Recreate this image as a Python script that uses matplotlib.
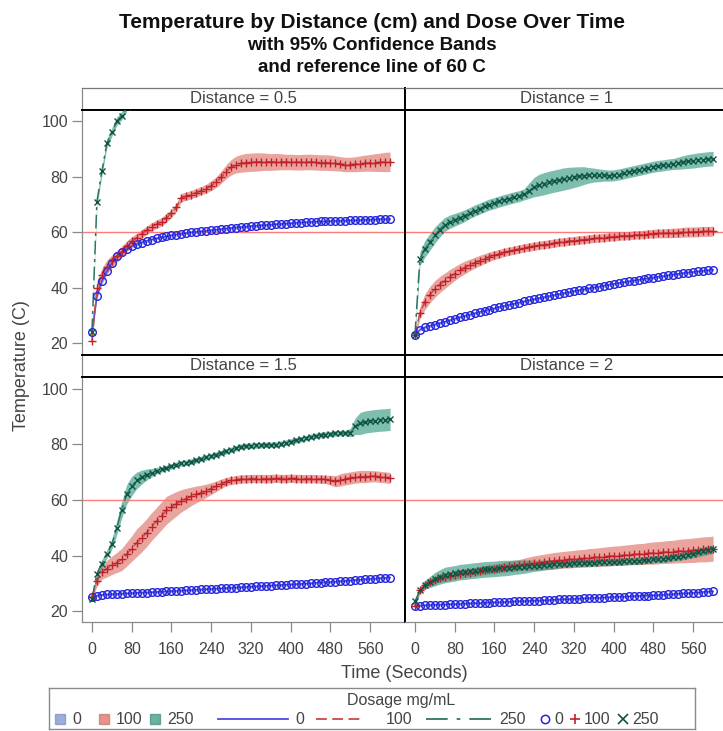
import numpy as np
import matplotlib.pyplot as plt
from matplotlib.patches import Rectangle

plt.rcParams['font.family'] = ['Liberation Sans', 'DejaVu Sans']

nan = float('nan')

# sample times (s), every 10 s
time_s = [0, 10, 20, 30, 40, 50, 60, 70, 80, 90,
          100, 110, 120, 130, 140, 150, 160, 170, 180, 190,
          200, 210, 220, 230, 240, 250, 260, 270, 280, 290,
          300, 310, 320, 330, 340, 350, 360, 370, 380, 390,
          400, 410, 420, 430, 440, 450, 460, 470, 480, 490,
          500, 510, 520, 530, 540, 550, 560, 570, 580, 590,
          600]

doses = ['0', '100', '250']
distances = ['0.5', '1', '1.5', '2']

# ---- Distance = 0.5 cm ----
d05_0 = [24.0, 37.0, 42.5, 46.0, 49.0, 51.3, 52.8, 54.0, 55.0, 55.7,
         56.3, 56.9, 57.4, 57.8, 58.2, 58.5, 58.9, 59.2, 59.4, 59.7,
         60.0, 60.1, 60.3, 60.5, 60.7, 60.9, 61.1, 61.3, 61.5, 61.7,
         61.9, 62.0, 62.2, 62.3, 62.5, 62.6, 62.7, 62.9, 63.0, 63.1,
         63.2, 63.4, 63.5, 63.6, 63.7, 63.8, 63.9, 63.9, 64.0, 64.1,
         64.1, 64.2, 64.3, 64.3, 64.4, 64.5, 64.5, 64.6, 64.7, 64.7,
         64.8]
d05_0_ci = [0.5, 1.2, 1.2, 1.0, 0.9, 0.8, 0.7, 0.7, 0.7, 0.7,
            0.7, 0.6, 0.6, 0.6, 0.6, 0.6, 0.6, 0.6, 0.6, 0.6,
            0.6, 0.6, 0.6, 0.6, 0.6, 0.6, 0.6, 0.6, 0.6, 0.6,
            0.6, 0.6, 0.6, 0.6, 0.6, 0.6, 0.6, 0.6, 0.6, 0.6,
            0.6, 0.6, 0.6, 0.6, 0.6, 0.6, 0.6, 0.6, 0.6, 0.6,
            0.6, 0.6, 0.6, 0.6, 0.6, 0.6, 0.6, 0.6, 0.6, 0.6,
            0.6]
d05_100 = [21.0, 40.0, 44.5, 47.5, 49.5, 51.3, 53.0, 55.0, 56.7, 58.0,
           59.4, 60.7, 62.0, 62.9, 63.8, 65.2, 66.8, 69.0, 72.5, 73.0,
           73.6, 74.3, 75.0, 75.7, 76.8, 78.0, 79.8, 81.8, 83.4, 84.4,
           84.8, 85.1, 85.2, 85.3, 85.4, 85.4, 85.3, 85.4, 85.4, 85.3,
           85.3, 85.2, 85.2, 85.3, 85.3, 85.2, 85.1, 85.1, 85.0, 84.8,
           84.6, 84.4, 84.4, 84.5, 84.7, 84.9, 85.0, 85.1, 85.2, 85.3,
           85.4]
d05_100_ci = [1.0, 2.5, 2.5, 2.5, 2.3, 2.1, 2.0, 1.9, 1.7, 1.6,
              1.5, 1.5, 1.5, 1.5, 1.5, 1.5, 1.5, 1.5, 1.5, 1.5,
              1.5, 1.5, 1.5, 1.6, 1.8, 1.9, 2.2, 2.5, 2.8, 3.0,
              3.2, 3.3, 3.3, 3.3, 3.2, 3.1, 3.0, 3.0, 2.9, 2.8,
              2.8, 2.8, 2.8, 2.8, 2.8, 2.8, 2.8, 2.8, 2.8, 2.7,
              2.6, 2.6, 2.6, 2.7, 2.8, 2.9, 3.0, 3.2, 3.3, 3.5,
              3.5]
d05_250 = [24.0, 71.0, 82.0, 92.0, 96.0, 100.0, 102.0, 105.0, nan, nan,
           nan, nan, nan, nan, nan, nan, nan, nan, nan, nan,
           nan, nan, nan, nan, nan, nan, nan, nan, nan, nan,
           nan, nan, nan, nan, nan, nan, nan, nan, nan, nan,
           nan, nan, nan, nan, nan, nan, nan, nan, nan, nan,
           nan, nan, nan, nan, nan, nan, nan, nan, nan, nan,
           nan]
d05_250_ci = [1.0, 1.5, 1.5, 1.5, 1.5, 1.5, 1.5, 1.5, nan, nan,
              nan, nan, nan, nan, nan, nan, nan, nan, nan, nan,
              nan, nan, nan, nan, nan, nan, nan, nan, nan, nan,
              nan, nan, nan, nan, nan, nan, nan, nan, nan, nan,
              nan, nan, nan, nan, nan, nan, nan, nan, nan, nan,
              nan, nan, nan, nan, nan, nan, nan, nan, nan, nan,
              nan]

# ---- Distance = 1 cm ----
d1_0 = [23.0, 25.0, 25.8, 26.3, 26.8, 27.3, 27.8, 28.3, 28.9, 29.4,
        29.9, 30.3, 30.8, 31.3, 31.7, 32.2, 32.6, 33.1, 33.5, 33.9,
        34.3, 34.7, 35.1, 35.5, 35.9, 36.3, 36.6, 37.0, 37.4, 37.7,
        38.1, 38.4, 38.8, 39.1, 39.4, 39.8, 40.1, 40.4, 40.8, 41.1,
        41.4, 41.7, 42.0, 42.3, 42.6, 42.9, 43.2, 43.4, 43.7, 44.0,
        44.2, 44.5, 44.8, 45.0, 45.3, 45.5, 45.7, 45.9, 46.1, 46.3,
        46.5]
d1_0_ci = [0.5, 0.6, 0.6, 0.6, 0.6, 0.6, 0.6, 0.6, 0.6, 0.6,
           0.6, 0.6, 0.6, 0.6, 0.6, 0.6, 0.6, 0.6, 0.6, 0.6,
           0.6, 0.6, 0.6, 0.6, 0.6, 0.6, 0.6, 0.6, 0.6, 0.6,
           0.6, 0.6, 0.6, 0.6, 0.6, 0.6, 0.6, 0.6, 0.6, 0.6,
           0.6, 0.6, 0.6, 0.6, 0.6, 0.6, 0.6, 0.6, 0.6, 0.6,
           0.6, 0.6, 0.6, 0.6, 0.6, 0.6, 0.6, 0.6, 0.6, 0.6,
           0.6]
d1_100 = [23.0, 31.0, 35.0, 37.5, 39.6, 41.2, 42.5, 43.9, 45.1, 46.3,
          47.3, 48.2, 49.0, 49.8, 50.5, 51.2, 51.8, 52.3, 52.8, 53.2,
          53.6, 54.0, 54.4, 54.7, 55.0, 55.3, 55.6, 55.8, 56.1, 56.4,
          56.6, 56.8, 57.0, 57.2, 57.4, 57.6, 57.8, 57.9, 58.1, 58.3,
          58.4, 58.6, 58.7, 58.8, 59.0, 59.1, 59.2, 59.4, 59.5, 59.6,
          59.6, 59.7, 59.8, 59.9, 60.0, 60.1, 60.1, 60.2, 60.3, 60.3,
          60.4]
d1_100_ci = [0.8, 2.2, 2.8, 3.0, 3.0, 2.9, 2.8, 2.7, 2.5, 2.4,
             2.3, 2.1, 2.0, 1.9, 1.8, 1.7, 1.6, 1.6, 1.5, 1.5,
             1.5, 1.5, 1.5, 1.5, 1.5, 1.5, 1.5, 1.5, 1.5, 1.5,
             1.5, 1.5, 1.5, 1.5, 1.5, 1.5, 1.5, 1.5, 1.5, 1.5,
             1.5, 1.5, 1.5, 1.5, 1.5, 1.5, 1.5, 1.5, 1.6, 1.6,
             1.6, 1.7, 1.7, 1.7, 1.8, 1.8, 1.8, 1.8, 1.8, 1.8,
             1.8]
d1_250 = [23.0, 50.5, 54.0, 56.5, 59.0, 61.0, 62.8, 63.8, 64.5, 65.2,
          66.0, 66.9, 67.8, 68.5, 69.3, 70.0, 70.5, 71.1, 71.6, 72.1,
          72.6, 73.0, 73.7, 75.0, 76.3, 77.0, 77.5, 78.0, 78.4, 78.8,
          79.2, 79.5, 79.8, 80.1, 80.4, 80.5, 80.6, 80.5, 80.5, 80.4,
          80.5, 80.8, 81.2, 81.6, 82.0, 82.4, 82.8, 83.2, 83.6, 83.9,
          84.1, 84.4, 84.6, 84.9, 85.2, 85.5, 85.7, 86.0, 86.2, 86.4,
          86.5]
d1_250_ci = [1.0, 2.5, 3.0, 3.0, 2.9, 2.7, 2.5, 2.4, 2.3, 2.2,
             2.1, 2.0, 2.0, 2.0, 2.0, 2.0, 2.0, 2.0, 2.0, 2.0,
             2.0, 2.0, 2.0, 2.8, 3.5, 3.9, 4.0, 4.0, 4.0, 4.0,
             4.0, 3.9, 3.7, 3.5, 3.2, 2.8, 2.5, 2.3, 2.1, 2.0,
             2.0, 2.0, 2.0, 2.0, 2.0, 2.0, 2.0, 2.0, 2.0, 2.0,
             2.0, 2.0, 2.0, 2.2, 2.4, 2.5, 2.6, 2.6, 2.6, 2.6,
             2.6]

# ---- Distance = 1.5 cm ----
d15_0 = [25.0, 25.6, 25.9, 26.0, 26.1, 26.2, 26.3, 26.4, 26.5, 26.6,
         26.7, 26.7, 26.8, 26.9, 27.0, 27.1, 27.2, 27.3, 27.4, 27.5,
         27.6, 27.7, 27.8, 27.9, 28.0, 28.1, 28.2, 28.3, 28.4, 28.5,
         28.6, 28.7, 28.8, 28.9, 29.0, 29.1, 29.2, 29.3, 29.4, 29.5,
         29.6, 29.7, 29.8, 29.9, 30.0, 30.2, 30.3, 30.4, 30.5, 30.6,
         30.8, 30.9, 31.0, 31.2, 31.3, 31.5, 31.6, 31.7, 31.9, 32.0,
         32.1]
d15_0_ci = [0.5, 0.5, 0.5, 0.5, 0.5, 0.5, 0.5, 0.5, 0.5, 0.5,
            0.5, 0.5, 0.5, 0.5, 0.5, 0.5, 0.5, 0.5, 0.5, 0.5,
            0.5, 0.5, 0.5, 0.5, 0.5, 0.5, 0.5, 0.5, 0.5, 0.5,
            0.5, 0.5, 0.5, 0.5, 0.5, 0.5, 0.5, 0.5, 0.5, 0.5,
            0.5, 0.5, 0.5, 0.5, 0.5, 0.5, 0.5, 0.5, 0.5, 0.5,
            0.5, 0.5, 0.5, 0.5, 0.5, 0.5, 0.5, 0.5, 0.5, 0.5,
            0.5]
d15_100 = [25.0, 31.0, 34.0, 35.3, 36.5, 37.5, 38.6, 40.5, 42.5, 44.6,
           46.3, 48.2, 50.4, 52.3, 54.3, 56.3, 57.5, 58.6, 59.7, 60.5,
           61.3, 62.0, 62.6, 63.3, 64.1, 64.9, 65.8, 66.6, 67.0, 67.3,
           67.5, 67.6, 67.7, 67.7, 67.7, 67.6, 67.7, 67.8, 67.7, 67.7,
           67.8, 67.7, 67.7, 67.6, 67.7, 67.6, 67.5, 67.4, 67.1, 66.7,
           67.2, 67.6, 67.9, 68.2, 68.4, 68.4, 68.5, 68.5, 68.3, 68.1,
           67.9]
d15_100_ci = [0.8, 2.0, 2.5, 3.0, 3.3, 3.6, 4.0, 4.3, 4.6, 5.0,
              5.0, 5.0, 5.0, 5.0, 5.0, 5.0, 4.7, 4.4, 4.0, 3.7,
              3.3, 3.0, 2.7, 2.4, 2.1, 1.9, 1.7, 1.5, 1.5, 1.5,
              1.5, 1.5, 1.5, 1.5, 1.5, 1.5, 1.5, 1.5, 1.5, 1.5,
              1.5, 1.5, 1.5, 1.5, 1.5, 1.5, 1.5, 1.5, 1.8, 2.0,
              2.2, 2.2, 2.2, 2.2, 2.2, 2.2, 2.1, 2.0, 2.0, 2.0,
              2.0]
d15_250 = [24.5, 33.5, 37.0, 40.5, 44.0, 50.0, 56.5, 62.0, 65.0, 67.0,
           68.2, 69.1, 69.8, 70.5, 71.0, 71.5, 72.1, 72.7, 73.1, 73.4,
           73.8, 74.3, 74.8, 75.3, 75.8, 76.3, 76.9, 77.5, 78.0, 78.6,
           79.2, 79.4, 79.5, 79.6, 79.7, 79.8, 79.8, 79.9, 80.2, 80.6,
           81.0, 81.4, 81.8, 82.2, 82.7, 83.0, 83.3, 83.5, 83.7, 83.9,
           84.0, 84.1, 84.2, 86.5, 87.5, 88.0, 88.3, 88.5, 88.7, 88.8,
           89.0]
d15_250_ci = [0.8, 1.2, 1.5, 1.5, 1.8, 2.5, 3.0, 3.5, 3.5, 3.0,
              2.5, 2.0, 1.5, 1.2, 1.0, 1.0, 1.0, 1.0, 1.0, 1.0,
              1.0, 1.0, 1.0, 1.0, 1.0, 1.0, 1.0, 1.0, 1.0, 1.0,
              1.0, 1.0, 1.0, 1.0, 1.0, 1.0, 1.0, 1.0, 1.0, 1.0,
              1.0, 1.0, 1.0, 1.0, 1.0, 1.0, 1.0, 1.0, 1.0, 1.0,
              1.0, 1.0, 1.5, 3.0, 4.0, 4.0, 4.0, 4.0, 4.0, 4.0,
              4.0]

# ---- Distance = 2 cm ----
d2_0 = [21.8, 22.0, 22.1, 22.2, 22.3, 22.3, 22.4, 22.5, 22.5, 22.6,
        22.7, 22.8, 22.9, 22.9, 23.0, 23.1, 23.2, 23.2, 23.3, 23.4,
        23.5, 23.6, 23.6, 23.7, 23.8, 23.8, 23.9, 24.0, 24.1, 24.2,
        24.3, 24.3, 24.4, 24.5, 24.6, 24.7, 24.8, 24.8, 24.9, 25.0,
        25.1, 25.2, 25.2, 25.3, 25.4, 25.5, 25.6, 25.6, 25.7, 25.8,
        25.9, 26.0, 26.1, 26.3, 26.4, 26.5, 26.6, 26.7, 26.9, 27.0,
        27.1]
d2_0_ci = [0.5, 0.5, 0.5, 0.5, 0.5, 0.5, 0.5, 0.5, 0.5, 0.5,
           0.5, 0.5, 0.5, 0.5, 0.5, 0.5, 0.5, 0.5, 0.5, 0.5,
           0.5, 0.5, 0.5, 0.5, 0.5, 0.5, 0.5, 0.5, 0.5, 0.5,
           0.5, 0.5, 0.5, 0.5, 0.5, 0.5, 0.5, 0.5, 0.5, 0.5,
           0.5, 0.5, 0.5, 0.5, 0.5, 0.5, 0.5, 0.5, 0.5, 0.5,
           0.5, 0.5, 0.5, 0.5, 0.5, 0.5, 0.5, 0.5, 0.5, 0.5,
           0.5]
d2_100 = [22.0, 27.5, 29.5, 30.5, 31.2, 31.8, 32.2, 32.6, 33.0, 33.3,
          33.6, 33.9, 34.2, 34.5, 34.7, 35.0, 35.3, 35.5, 35.8, 36.1,
          36.3, 36.6, 36.9, 37.1, 37.3, 37.5, 37.7, 37.9, 38.1, 38.3,
          38.5, 38.6, 38.8, 38.9, 39.0, 39.2, 39.3, 39.4, 39.6, 39.7,
          39.9, 40.0, 40.1, 40.3, 40.4, 40.5, 40.6, 40.8, 40.9, 41.0,
          41.2, 41.3, 41.4, 41.6, 41.7, 41.8, 41.9, 42.1, 42.2, 42.3,
          42.5]
d2_100_ci = [0.5, 0.8, 1.1, 1.2, 1.3, 1.4, 1.5, 1.5, 1.5, 1.5,
             1.5, 1.5, 1.5, 1.5, 1.6, 1.6, 1.7, 1.7, 1.8, 1.9,
             2.0, 2.0, 2.2, 2.4, 2.6, 2.7, 2.8, 2.9, 3.0, 3.0,
             3.0, 3.1, 3.1, 3.2, 3.2, 3.3, 3.3, 3.4, 3.4, 3.5,
             3.5, 3.5, 3.6, 3.6, 3.7, 3.8, 3.8, 3.9, 4.0, 4.0,
             4.0, 4.1, 4.1, 4.2, 4.3, 4.3, 4.4, 4.4, 4.5, 4.5,
             4.5]
d2_250 = [23.5, 27.5, 29.5, 30.5, 31.5, 32.3, 33.0, 33.3, 33.6, 34.0,
          34.2, 34.4, 34.6, 34.8, 35.0, 35.1, 35.2, 35.4, 35.5, 35.6,
          35.8, 35.9, 36.0, 36.2, 36.3, 36.4, 36.6, 36.7, 36.8, 37.0,
          37.1, 37.1, 37.2, 37.3, 37.4, 37.4, 37.5, 37.6, 37.6, 37.7,
          37.8, 37.8, 37.9, 38.0, 38.1, 38.2, 38.3, 38.5, 38.6, 38.8,
          38.9, 39.1, 39.4, 39.6, 40.0, 40.3, 40.7, 41.1, 41.5, 41.9,
          42.3]
d2_250_ci = [0.5, 1.2, 1.6, 2.0, 2.4, 2.6, 2.8, 2.8, 2.8, 2.8,
             2.8, 2.8, 2.8, 2.8, 2.8, 2.8, 2.8, 2.8, 2.8, 2.7,
             2.6, 2.5, 2.4, 2.2, 2.0, 1.9, 1.8, 1.7, 1.6, 1.5,
             1.4, 1.3, 1.3, 1.3, 1.3, 1.3, 1.3, 1.3, 1.3, 1.3,
             1.3, 1.3, 1.3, 1.3, 1.3, 1.3, 1.3, 1.3, 1.3, 1.3,
             1.3, 1.3, 1.3, 1.3, 1.4, 1.4, 1.5, 1.5, 1.5, 1.5,
             1.5]

ref_temp = 60
x_ticks = [0, 80, 160, 240, 320, 400, 480, 560]
y_ticks = [20, 40, 60, 80, 100]

series = {
    '0.5': [(d05_0, d05_0_ci), (d05_100, d05_100_ci), (d05_250, d05_250_ci)],
    '1': [(d1_0, d1_0_ci), (d1_100, d1_100_ci), (d1_250, d1_250_ci)],
    '1.5': [(d15_0, d15_0_ci), (d15_100, d15_100_ci), (d15_250, d15_250_ci)],
    '2': [(d2_0, d2_0_ci), (d2_100, d2_100_ci), (d2_250, d2_250_ci)],
}

# per-dose styles: band colour/alpha, line colour/dashes, marker
band_col = ['#5a78c8', '#d9594e', '#2a9479']
band_alpha = [0.5, 0.55, 0.6]
band_edge = ['#6d7fb5', '#c46a60', '#3f8a78']
line_col = ['#4b4be6', '#c84a4a', '#2d7563']
line_dash = [None, (6, 3), (9, 3, 2, 3)]
mark_col = ['#2323dd', '#c0202a', '#0f5545']
mark_sym = ['o', '+', 'x']
mark_size = [5.5, 6.0, 5.0]

TICK_GREY = '#8a8a8a'
TEXT_GREY = '#444444'

W, H = 723, 731
fig = plt.figure(figsize=(W / 100, H / 100), dpi=100)


def box(x0, y0, x1, y1):
    return [x0 / W, 1 - y1 / H, (x1 - x0) / W, (y1 - y0) / H]


cols = [(82, 405), (405, 728)]
rows = [((88, 109.5), (109.5, 354.5)), ((354.5, 377), (377, 622.3))]
t = np.array(time_s, dtype=float)

for k, dist in enumerate(distances):
    r, c = divmod(k, 2)
    x0, x1 = cols[c]
    (h0, h1), (p0, p1) = rows[r]

    # strip header
    hx = fig.add_axes(box(x0, h0, x1, h1))
    hx.set_xticks([])
    hx.set_yticks([])
    hx.text(0.5, 0.5, f'Distance = {dist}', ha='center', va='center',
            fontsize=12, color=TEXT_GREY, transform=hx.transAxes)
    for s in hx.spines.values():
        s.set_color('black')
        s.set_linewidth(1.4)
    if r == 0:
        hx.spines['top'].set_color('#777777')
        hx.spines['top'].set_linewidth(0.9)
    if c == 0:
        hx.spines['left'].set_color(TICK_GREY)
        hx.spines['left'].set_linewidth(0.9)

    ax = fig.add_axes(box(x0, p0, x1, p1))
    ax.set_xlim(-20, 630)
    ax.set_ylim(16, 104.2)

    # bands first, then reference line, lines and markers on top
    for i, (vals, ci) in enumerate(series[dist]):
        v = np.array(vals, dtype=float)
        e = np.array(ci, dtype=float)
        ax.fill_between(t, v - e, v + e, color=band_col[i],
                        alpha=band_alpha[i], lw=0, zorder=1)
    ax.axhline(ref_temp, color='#ff7b7b', lw=1.0, zorder=2)
    for i, (vals, ci) in enumerate(series[dist]):
        ln, = ax.plot(t, vals, color=line_col[i], lw=1.1, zorder=3)
        if line_dash[i] is not None:
            ln.set_dashes(line_dash[i])
    for i, (vals, ci) in enumerate(series[dist]):
        if mark_sym[i] == 'o':
            ax.plot(t, vals, ls='none', marker='o', ms=mark_size[i],
                    mfc='none', mec=mark_col[i], mew=1.0, zorder=4)
        else:
            ax.plot(t, vals, ls='none', marker=mark_sym[i], ms=mark_size[i],
                    color=mark_col[i], mew=1.0, zorder=4)

    for s in ax.spines.values():
        s.set_color('black')
        s.set_linewidth(1.4)
    if c == 0:
        ax.spines['left'].set_color(TICK_GREY)
        ax.spines['left'].set_linewidth(0.9)
        ax.set_yticks(y_ticks)
        ax.tick_params(axis='y', length=7, width=0.9, color=TICK_GREY,
                       labelsize=11.5, labelcolor=TEXT_GREY, pad=3)
    else:
        ax.set_yticks([])
    if r == 1:
        ax.spines['bottom'].set_color(TICK_GREY)
        ax.spines['bottom'].set_linewidth(0.9)
        ax.set_xticks(x_ticks)
        ax.tick_params(axis='x', length=7, width=0.9, color=TICK_GREY,
                       labelsize=11.5, labelcolor=TEXT_GREY, pad=7)
    else:
        ax.set_xticks([])

# titles and axis labels
fig.text(372 / W, 1 - 22 / H, 'Temperature by Distance (cm) and Dose Over Time',
         ha='center', va='center', fontsize=15, fontweight='bold', color='#111111')
fig.text(372 / W, 1 - 46 / H, 'with 95% Confidence Bands',
         ha='center', va='center', fontsize=13.5, fontweight='bold', color='#111111')
fig.text(372 / W, 1 - 68 / H, 'and reference line of 60 C',
         ha='center', va='center', fontsize=13.5, fontweight='bold', color='#111111')
fig.text(22 / W, 1 - 366 / H, 'Temperature (C)', rotation=90,
         ha='center', va='center', fontsize=13, color=TEXT_GREY)
fig.text(404 / W, 1 - 673 / H, 'Time (Seconds)',
         ha='center', va='center', fontsize=13, color=TEXT_GREY)

# legend panel, laid out in pixel units
lg = fig.add_axes(box(49, 688, 695, 729))
lg.set_xlim(49, 695)
lg.set_ylim(729, 688)
lg.set_xticks([])
lg.set_yticks([])
for s in lg.spines.values():
    s.set_color('#8a8a8a')
    s.set_linewidth(1.0)
lg.text(401, 700, 'Dosage mg/mL', ha='center', va='center',
        fontsize=11.5, color=TEXT_GREY)
ly = 719
for i, x in enumerate([55, 99, 150]):
    lg.add_patch(Rectangle((x, ly - 5), 10, 10, facecolor=band_col[i],
                           alpha=band_alpha[i] + 0.1, edgecolor=band_edge[i], lw=1))
    lg.text(x + 17, ly, doses[i], ha='left', va='center', fontsize=11.5, color=TEXT_GREY)
legend_dash = [None, (6, 3), (12, 5, 2, 5)]
for i, (xa, xb, xt) in enumerate([(218, 288, 295), (316, 364, 386), (426, 492, 499)]):
    ln, = lg.plot([xa, xb], [ly, ly], color=line_col[i], lw=1.3)
    if legend_dash[i] is not None:
        ln.set_dashes(legend_dash[i])
    lg.text(xt, ly, doses[i], ha='left', va='center', fontsize=11.5, color=TEXT_GREY)
for i, x in enumerate([545, 575, 623]):
    if mark_sym[i] == 'o':
        lg.plot([x], [ly], ls='none', marker='o', ms=6, mfc='none',
                mec=mark_col[i], mew=1.1)
    else:
        lg.plot([x], [ly], ls='none', marker=mark_sym[i], ms=7,
                color=mark_col[i], mew=1.2)
    lg.text(x + 9, ly, doses[i], ha='left', va='center', fontsize=11.5, color=TEXT_GREY)

fig.savefig('out.png', dpi=100)
